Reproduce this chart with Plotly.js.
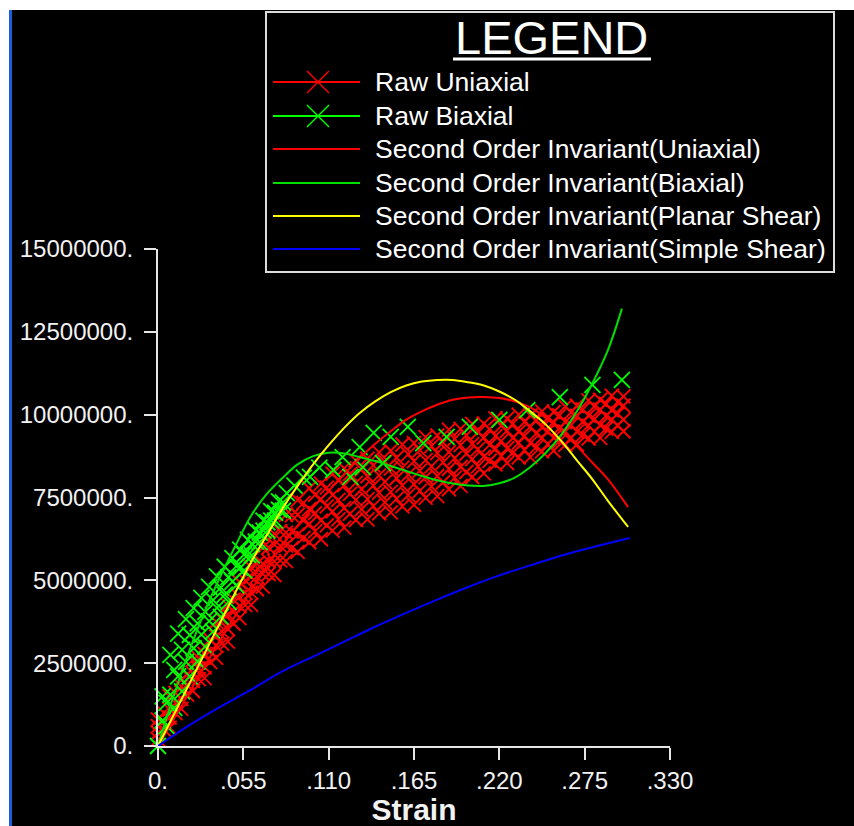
<!DOCTYPE html>
<html><head><meta charset="utf-8">
<script src="https://cdn.plot.ly/plotly-3.0.1.min.js"></script>
<style>
html,body{margin:0;padding:0;background:#000;width:854px;height:826px;overflow:hidden}
#chart{position:absolute;left:0;top:0;width:854px;height:826px}
.strip{position:absolute;z-index:10}
</style></head><body>
<div id="chart"></div>
<div class="strip" style="left:0;top:0;width:854px;height:10px;background:#fff"></div>
<div class="strip" style="left:0;top:0;width:9px;height:826px;background:#fff"></div>
<div class="strip" style="left:9px;top:10px;width:3px;height:816px;background:#1a5fd8"></div>
<script>
// ---------- data (stress values in millions, converted to Pa below) ----------
// Raw uniaxial test points (several loading passes through the band)
const uniX = [0, 0.0075, 0.015, 0.0225, 0.03, 0.0375, 0.045, 0.0525, 0.06, 0.0675, 0.075, 0.0825, 0.09, 0.0975, 0.105, 0.1125, 0.12, 0.1275, 0.135, 0.1425, 0.15, 0.1575, 0.165, 0.1725, 0.18, 0.1875, 0.195, 0.2025, 0.21, 0.2175, 0.225, 0.2325, 0.24, 0.2475, 0.255, 0.2625, 0.27, 0.2775, 0.285, 0.2925, 0.30];
const uniYA = [0.8, 1.5, 2.0, 2.6, 3.0, 3.75, 4.25, 4.95, 5.4, 5.98, 6.4, 6.98, 7.42, 7.78, 7.92, 8.22, 8.38, 8.62, 8.67, 8.86, 8.91, 9.1, 9.14, 9.32, 9.37, 9.55, 9.57, 9.72, 9.73, 9.89, 9.88, 10.0, 9.98, 10.1, 10.08, 10.25, 10.27, 10.43, 10.45, 10.57, 10.55];
const uniYB = [0.6, 1.1, 1.8, 2.2, 2.78, 3.3, 3.97, 4.5, 5.1, 5.5, 6.08, 6.44, 6.98, 7.15, 7.45, 7.57, 7.87, 7.94, 8.14, 8.17, 8.37, 8.4, 8.6, 8.63, 8.84, 8.87, 9.08, 9.11, 9.31, 9.35, 9.52, 9.49, 9.64, 9.62, 9.77, 9.78, 9.96, 9.97, 10.15, 10.13, 10.27];
const uniYC = [0.4, 0.86, 1.42, 1.97, 2.38, 3.02, 3.53, 4.22, 4.63, 5.2, 5.57, 6.05, 6.38, 6.7, 6.8, 7.08, 7.18, 7.43, 7.45, 7.64, 7.67, 7.86, 7.9, 8.11, 8.15, 8.36, 8.42, 8.66, 8.73, 8.97, 8.98, 9.15, 9.14, 9.3, 9.3, 9.49, 9.49, 9.67, 9.68, 9.85, 9.85];
const uniYD = [0.2, 0.55, 1.12, 1.66, 2.05, 2.66, 3.15, 3.86, 4.26, 4.81, 5.16, 5.58, 5.86, 6.15, 6.24, 6.5, 6.59, 6.82, 6.84, 7.02, 7.05, 7.23, 7.28, 7.49, 7.54, 7.75, 7.85, 8.12, 8.23, 8.5, 8.54, 8.71, 8.72, 8.89, 8.91, 9.09, 9.1, 9.28, 9.3, 9.48, 9.5];
const uniXM = [0.00375, 0.01125, 0.01875, 0.02625, 0.03375, 0.04125, 0.04875, 0.05625, 0.06375, 0.07125, 0.07875, 0.08625, 0.09375, 0.10125, 0.10875, 0.11625, 0.12375, 0.13125, 0.13875, 0.14625, 0.15375, 0.16125, 0.16875, 0.17625, 0.18375, 0.19125, 0.19875, 0.20625, 0.21375, 0.22125, 0.22875, 0.23625, 0.24375, 0.25125, 0.25875, 0.26625, 0.27375, 0.28125, 0.28875, 0.29625];
const uniYE = [1.0, 1.6, 2.15, 2.65, 3.21, 3.82, 4.42, 4.99, 5.5, 5.99, 6.48, 6.96, 7.34, 7.58, 7.8, 8.02, 8.21, 8.35, 8.47, 8.58, 8.7, 8.81, 8.93, 9.05, 9.16, 9.27, 9.38, 9.47, 9.57, 9.66, 9.73, 9.78, 9.84, 9.9, 9.98, 10.07, 10.16, 10.25, 10.33, 10.38];
const uniYG = [0.74, 1.3, 1.85, 2.34, 2.87, 3.46, 4.06, 4.62, 5.11, 5.59, 6.04, 6.47, 6.81, 7.03, 7.23, 7.43, 7.61, 7.75, 7.86, 7.97, 8.08, 8.19, 8.31, 8.44, 8.56, 8.69, 8.82, 8.96, 9.09, 9.21, 9.29, 9.36, 9.43, 9.5, 9.59, 9.69, 9.78, 9.87, 9.96, 10.03];
const uniYF = [0.5, 0.99, 1.55, 2.02, 2.53, 3.09, 3.69, 4.25, 4.73, 5.19, 5.6, 5.97, 6.28, 6.48, 6.66, 6.84, 7.01, 7.14, 7.24, 7.35, 7.46, 7.57, 7.7, 7.83, 7.96, 8.1, 8.27, 8.44, 8.61, 8.75, 8.85, 8.93, 9.02, 9.11, 9.2, 9.3, 9.39, 9.49, 9.58, 9.68];

// Raw biaxial test points
const biaXHi = [0, 0.003, 0.008, 0.013, 0.018, 0.023, 0.028, 0.033, 0.038, 0.043, 0.048, 0.053, 0.058, 0.063, 0.068, 0.073, 0.078, 0.083, 0.088, 0.094, 0.104, 0.119, 0.130, 0.139, 0.150, 0.161, 0.171, 0.186, 0.201, 0.220, 0.238, 0.259, 0.280, 0.299];
const biaYHi = [0, 1.5, 2.75, 3.39, 3.83, 4.16, 4.47, 4.8, 5.12, 5.41, 5.67, 5.93, 6.22, 6.51, 6.8, 7.09, 7.38, 7.63, 7.86, 8.1, 8.4, 8.72, 9.02, 9.45, 9.33, 9.63, 9.14, 9.33, 9.63, 9.84, 10.14, 10.53, 10.9, 11.05];
const biaXM2 = [0.0055, 0.0105, 0.0155, 0.0205, 0.0255, 0.0305, 0.0355, 0.0405, 0.0455, 0.0505, 0.0555, 0.0605, 0.0655, 0.0705, 0.0755, 0.0805, 0.098, 0.113, 0.124, 0.132, 0.145];
const biaYM2 = [1.3, 2.3, 2.9, 3.35, 3.7, 4.05, 4.4, 4.78, 5.1, 5.42, 5.78, 6.1, 6.44, 6.75, 7.04, 7.35, 8.12, 8.33, 8.12, 8.42, 8.54];
const biaXM1 = [0.003, 0.008, 0.013, 0.018, 0.023, 0.028, 0.033, 0.038, 0.043, 0.048, 0.053, 0.058, 0.063, 0.068, 0.073, 0.078];
const biaYM1 = [0.77, 1.55, 2.1, 2.54, 2.95, 3.36, 3.77, 4.17, 4.57, 4.96, 5.38, 5.77, 6.17, 6.5, 6.8, 7.13];
const biaXLo = [0.0055, 0.0105, 0.0155, 0.0205, 0.0255, 0.0305, 0.0355, 0.0405, 0.0455, 0.0505, 0.0555, 0.0605, 0.0655, 0.0705, 0.0755, 0.0805];
const biaYLo = [0.6, 1.15, 1.65, 2.1, 2.55, 3.0, 3.45, 3.9, 4.35, 4.85, 5.3, 5.75, 6.15, 6.5, 6.8, 7.1];

// Second order invariant fits
const fitUniX = [0, 0.01, 0.02, 0.03, 0.04, 0.05, 0.06, 0.07, 0.08, 0.09, 0.10, 0.11, 0.12, 0.13, 0.14, 0.15, 0.16, 0.17, 0.18, 0.19, 0.20, 0.21, 0.22, 0.23, 0.24, 0.25, 0.26, 0.27, 0.28, 0.29, 0.303];
const fitUniY = [0, 0.8, 1.6, 2.4, 3.2, 3.95, 4.7, 5.4, 6.05, 6.65, 7.2, 7.7, 8.2, 8.68, 9.12, 9.5, 9.85, 10.1, 10.3, 10.45, 10.52, 10.53, 10.5, 10.4, 10.22, 9.9, 9.5, 9.05, 8.55, 8.05, 7.21];
const fitBiaX = [0, 0.01, 0.02, 0.03, 0.04, 0.05, 0.06, 0.07, 0.08, 0.09, 0.10, 0.11, 0.12, 0.13, 0.14, 0.15, 0.16, 0.17, 0.18, 0.19, 0.20, 0.21, 0.22, 0.23, 0.24, 0.25, 0.26, 0.27, 0.28, 0.29, 0.299];
const fitBiaY = [0, 1.5, 2.85, 4.05, 5.1, 6.05, 6.95, 7.6, 8.08, 8.5, 8.75, 8.85, 8.83, 8.72, 8.6, 8.45, 8.3, 8.15, 8.02, 7.92, 7.86, 7.85, 7.93, 8.1, 8.42, 8.85, 9.4, 10.1, 10.95, 11.95, 13.2];
const fitPlanX = [0, 0.01, 0.02, 0.03, 0.04, 0.05, 0.06, 0.07, 0.08, 0.09, 0.10, 0.11, 0.12, 0.13, 0.14, 0.15, 0.16, 0.17, 0.18, 0.19, 0.20, 0.21, 0.22, 0.23, 0.24, 0.25, 0.26, 0.27, 0.28, 0.29, 0.303];
const fitPlanY = [0, 0.93, 1.86, 2.79, 3.72, 4.65, 5.55, 6.35, 7.15, 7.85, 8.5, 9.08, 9.6, 10.05, 10.4, 10.68, 10.88, 11.0, 11.05, 11.05, 10.98, 10.88, 10.7, 10.45, 10.1, 9.7, 9.2, 8.62, 8.05, 7.4, 6.61];
const fitSimpX = [0, 0.02, 0.04, 0.06, 0.08, 0.10, 0.12, 0.14, 0.16, 0.18, 0.20, 0.22, 0.24, 0.26, 0.28, 0.304];
const fitSimpY = [0, 0.62, 1.18, 1.7, 2.25, 2.7, 3.15, 3.6, 4.02, 4.42, 4.8, 5.15, 5.45, 5.75, 6.0, 6.28];

const seriesNames = ["Raw Uniaxial", "Raw Biaxial", "Second Order Invariant(Uniaxial)", "Second Order Invariant(Biaxial)", "Second Order Invariant(Planar Shear)", "Second Order Invariant(Simple Shear)"];
const seriesColors = ["#ff0000", "#00ff00", "#ff0000", "#00e000", "#ffff00", "#0000ff"];

const xTickVals = [0, 0.055, 0.110, 0.165, 0.220, 0.275, 0.330];
const xTickText = ["0.", ".055", ".110", ".165", ".220", ".275", ".330"];
const yTickVals = [0, 2500000, 5000000, 7500000, 10000000, 12500000, 15000000];
const yTickText = ["0.", "2500000.", "5000000.", "7500000.", "10000000.", "12500000.", "15000000."];

// ---------- build ----------
const toPa = a => a.map(v => v * 1e6);
const FONT = "Liberation Sans, Arial, sans-serif";

const traces = [
  { x: [].concat(uniX, uniXM, uniX, uniXM, uniX, uniXM, uniX),
    y: toPa([].concat(uniYA, uniYE, uniYB, uniYG, uniYC, uniYF, uniYD)),
    mode: "markers", name: seriesNames[0], cliponaxis: false,
    marker: { symbol: "x-thin", size: 14, color: seriesColors[0], line: { color: seriesColors[0], width: 1.9 } } },
  { x: [].concat(biaXHi, biaXM2, biaXM1, biaXLo), y: toPa([].concat(biaYHi, biaYM2, biaYM1, biaYLo)),
    mode: "markers", name: seriesNames[1], cliponaxis: false,
    marker: { symbol: "x-thin", size: 16, color: seriesColors[1], line: { color: seriesColors[1], width: 1.8 } } },
  { x: fitUniX, y: toPa(fitUniY), mode: "lines", name: seriesNames[2], line: { color: seriesColors[2], width: 2, shape: "spline" } },
  { x: fitBiaX, y: toPa(fitBiaY), mode: "lines", name: seriesNames[3], line: { color: seriesColors[3], width: 2, shape: "spline" } },
  { x: fitPlanX, y: toPa(fitPlanY), mode: "lines", name: seriesNames[4], line: { color: seriesColors[4], width: 2, shape: "spline" } },
  { x: fitSimpX, y: toPa(fitSimpY), mode: "lines", name: seriesNames[5], line: { color: seriesColors[5], width: 2, shape: "spline" } }
];

// pixel -> paper helpers for the drawn legend box
const PL = 158, PR = 670, PT = 249, PB = 746;
const fx = p => (p - PL) / (PR - PL);
const fy = p => (PB - p) / (PB - PT);

const shapes = [];
const annotations = [];
shapes.push({ type: "rect", xref: "paper", yref: "paper", x0: fx(266), x1: fx(834), y0: fy(272), y1: fy(12),
  line: { color: "#dcdcdc", width: 2 }, fillcolor: "rgba(0,0,0,0)" });
annotations.push({ xref: "paper", yref: "paper", x: fx(551), y: fy(37), xanchor: "center", yanchor: "middle",
  text: "LEGEND", showarrow: false, font: { family: FONT, size: 47, color: "#ffffff" } });
shapes.push({ type: "line", xref: "paper", yref: "paper", x0: fx(453), x1: fx(651), y0: fy(59), y1: fy(59),
  line: { color: "#ffffff", width: 3 } });
const rowY = [82, 116, 149, 183, 216, 249];
seriesNames.forEach((nm, i) => {
  const yy = rowY[i];
  shapes.push({ type: "line", xref: "paper", yref: "paper", x0: fx(273), x1: fx(360), y0: fy(yy), y1: fy(yy),
    line: { color: seriesColors[i], width: 2 } });
  if (i < 2) {
    shapes.push({ type: "line", xref: "paper", yref: "paper", x0: fx(307), x1: fx(329), y0: fy(yy - 11), y1: fy(yy + 11),
      line: { color: seriesColors[i], width: 1.5 } });
    shapes.push({ type: "line", xref: "paper", yref: "paper", x0: fx(307), x1: fx(329), y0: fy(yy + 11), y1: fy(yy - 11),
      line: { color: seriesColors[i], width: 1.5 } });
  }
  annotations.push({ xref: "paper", yref: "paper", x: fx(373), y: fy(yy), xanchor: "left", yanchor: "middle",
    text: nm, showarrow: false, font: { family: FONT, size: 26.5, color: "#ffffff" } });
});

const axisCommon = {
  showline: true, linecolor: "#e6e6e6", linewidth: 2, ticks: "outside", ticklen: 12, tickwidth: 2,
  tickcolor: "#e6e6e6", showgrid: false, zeroline: false, fixedrange: true,
  tickfont: { family: FONT, size: 24, color: "#f2f2f2" }
};

const layout = {
  width: 854, height: 826,
  margin: { l: PL, r: 854 - PR, t: PT, b: 826 - PB, pad: 0 },
  paper_bgcolor: "#000000", plot_bgcolor: "#000000",
  showlegend: false,
  xaxis: Object.assign({}, axisCommon, {
    range: [0, 0.33], tickmode: "array", tickvals: xTickVals, ticktext: xTickText,
    title: { text: "Strain", standoff: 6, font: { family: FONT, size: 30, weight: "bold", color: "#f2f2f2" } }
  }),
  yaxis: Object.assign({}, axisCommon, {
    range: [0, 15000000], tickmode: "array", tickvals: yTickVals, ticktext: yTickText, ticklabelstandoff: 6
  }),
  shapes: shapes, annotations: annotations
};

Plotly.newPlot("chart", traces, layout, { staticPlot: true, displayModeBar: false });
</script>
</body></html>
